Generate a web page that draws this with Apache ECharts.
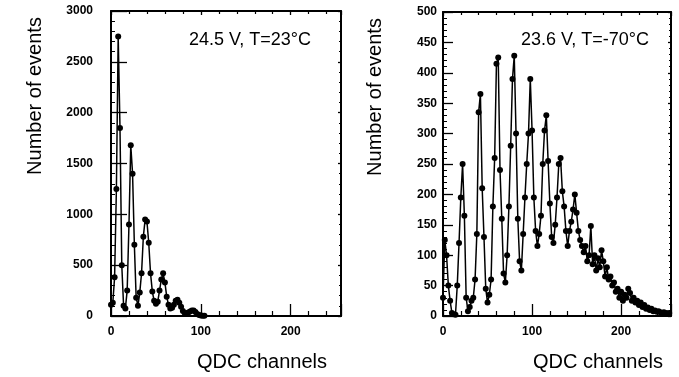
<!DOCTYPE html>
<html>
<head>
<meta charset="utf-8">
<script src="https://cdn.jsdelivr.net/npm/echarts@6/dist/echarts.min.js"></script>
<style>
html,body{margin:0;padding:0;background:#fff;}
#chart{width:679px;height:377px;}
</style>
</head>
<body>
<div id="chart"></div>
<script>
// Bin width of the QDC histograms (channels per point)
var binWidth = 2;

// Left panel: 24.5 V, T=23°C (counts per bin, starting at channel 0)
var countsLeft = [
  110, 130, 380, 1250, 2750, 1850, 500, 100, 75, 250,
  900, 1680, 1400, 700, 180, 100, 230, 420, 780, 950,
  930, 720, 420, 240, 150, 120, 140, 250, 360, 420,
  330, 190, 110, 75, 80, 110, 150, 160, 130, 90,
  50, 30, 25, 35, 45, 55, 55, 40, 20, 10,
  5, 3, 2
];

// Right panel: 23.6 V, T=-70°C (counts per bin, starting at channel 0)
var countsRight = [
  30, 125, 100, 50, 25, 5, 3, 2, 50, 120,
  195, 250, 165, 30, 8, 15, 25, 30, 60, 135,
  335, 365, 210, 130, 45, 22, 35, 60, 180, 260,
  415, 425, 240, 160, 70, 55, 100, 180, 280, 390,
  428, 300, 160, 90, 75, 135, 195, 250, 300, 390,
  305, 195, 140, 115, 135, 165, 250, 305, 330, 255,
  185, 130, 120, 150, 195, 250, 260, 205, 180, 140,
  115, 140, 155, 175, 200, 170, 140, 125, 115, 105,
  115, 90, 100, 148, 85, 100, 75, 95, 80, 108,
  90, 65, 80, 60, 65, 50, 55, 40, 45, 30,
  40, 25, 35, 30, 45, 38, 25, 30, 22, 25,
  18, 22, 15, 18, 12, 14, 10, 12, 8, 9,
  7, 8, 6, 5, 6, 5, 4, 5
];

var xTicks = [0, 100, 200];
var yTicksLeft = [0, 500, 1000, 1500, 2000, 2500, 3000];
var yTicksRight = [0, 50, 100, 150, 200, 250, 300, 350, 400, 450, 500];

var labelLeft = '24.5 V, T=23°C';
var labelRight = '23.6 V, T=-70°C';
var xTitle = 'QDC channels';
var yTitle = 'Number of events';

function toPairs(counts) {
  var out = [];
  for (var i = 0; i < counts.length; i++) out.push([i * binWidth, counts[i]]);
  return out;
}

var chart = echarts.init(document.getElementById('chart'), null, {renderer: 'canvas'});
var FONT = '"Liberation Sans", Arial, Helvetica, sans-serif';

function xAxisCfg(gridIndex, show) {
  return {
    type: 'value', gridIndex: gridIndex, min: 0, max: 256, interval: 100,
    position: show ? 'bottom' : 'top',
    axisLine: {show: true, onZero: false, lineStyle: {color: '#000', width: 2}},
    axisTick: {show: true, inside: true, length: show ? 12 : 4, lineStyle: {color: '#000', width: 1.3}},
    minorTick: {show: true, splitNumber: 5, length: show ? 5 : 3, lineStyle: {color: '#000', width: 1.2}},
    axisLabel: {show: show, margin: 10, color: '#000', fontFamily: FONT, fontSize: 12, fontWeight: 'bold',
      formatter: function (v) { return xTicks.indexOf(v) >= 0 ? String(v) : ''; }},
    splitLine: {show: false}
  };
}
function yAxisCfg(gridIndex, max, interval, ticks, margin, tickLen, show) {
  return {
    type: 'value', gridIndex: gridIndex, min: 0, max: max, interval: interval,
    position: show ? 'left' : 'right',
    axisLine: {show: true, onZero: false, lineStyle: {color: '#000', width: 2}},
    axisTick: {show: true, inside: true, length: show ? tickLen : 3, lineStyle: {color: '#000', width: 1.3}},
    minorTick: {show: true, splitNumber: 5, length: show ? 4 : 2, lineStyle: {color: '#000', width: 1}},
    axisLabel: {show: show, margin: margin, color: '#000', fontFamily: FONT, fontSize: 12, fontWeight: 'bold',
      formatter: function (v) { return ticks.indexOf(v) >= 0 ? String(v) : ''; }},
    splitLine: {show: false}
  };
}

var seriesStyle = {
  type: 'line',
  symbol: 'circle',
  symbolSize: 6,
  showSymbol: true,
  lineStyle: {color: '#000', width: 1.5},
  itemStyle: {color: '#000'},
  animation: false,
  clip: true
};

var option = {
  backgroundColor: '#fff',
  animation: false,
  grid: [
    {left: 111, top: 11, width: 230, height: 305, show: false},
    {left: 443, top: 12, width: 228, height: 304, show: false}
  ],
  xAxis: [
    xAxisCfg(0, true), xAxisCfg(0, false),
    xAxisCfg(1, true), xAxisCfg(1, false)
  ],
  yAxis: [
    yAxisCfg(0, 3000, 500, yTicksLeft, 18, 16, true),
    yAxisCfg(0, 3000, 500, yTicksLeft, 18, 16, false),
    yAxisCfg(1, 500, 50, yTicksRight, 6, 10, true),
    yAxisCfg(1, 500, 50, yTicksRight, 6, 10, false)
  ],
  series: [
    Object.assign({}, seriesStyle, {xAxisIndex: 0, yAxisIndex: 0, data: toPairs(countsLeft)}),
    Object.assign({}, seriesStyle, {xAxisIndex: 2, yAxisIndex: 2, data: toPairs(countsRight)})
  ],
  graphic: [
    {type: 'text', x: 35, y: 96, rotation: Math.PI / 2,
      style: {text: yTitle, fill: '#000', font: '20px ' + FONT, textAlign: 'center', textVerticalAlign: 'middle'}},
    {type: 'text', x: 375, y: 97, rotation: Math.PI / 2,
      style: {text: yTitle, fill: '#000', font: '20px ' + FONT, textAlign: 'center', textVerticalAlign: 'middle'}},
    {type: 'text', x: 262, y: 362,
      style: {text: xTitle, fill: '#000', font: '20px ' + FONT, textAlign: 'center', textVerticalAlign: 'middle'}},
    {type: 'text', x: 598, y: 362,
      style: {text: xTitle, fill: '#000', font: '20px ' + FONT, textAlign: 'center', textVerticalAlign: 'middle'}},
    {type: 'text', x: 250, y: 40,
      style: {text: labelLeft, fill: '#000', font: '18px ' + FONT, textAlign: 'center', textVerticalAlign: 'middle'}},
    {type: 'text', x: 585, y: 40,
      style: {text: labelRight, fill: '#000', font: '18px ' + FONT, textAlign: 'center', textVerticalAlign: 'middle'}}
  ]
};
chart.setOption(option);
</script>
</body>
</html>
